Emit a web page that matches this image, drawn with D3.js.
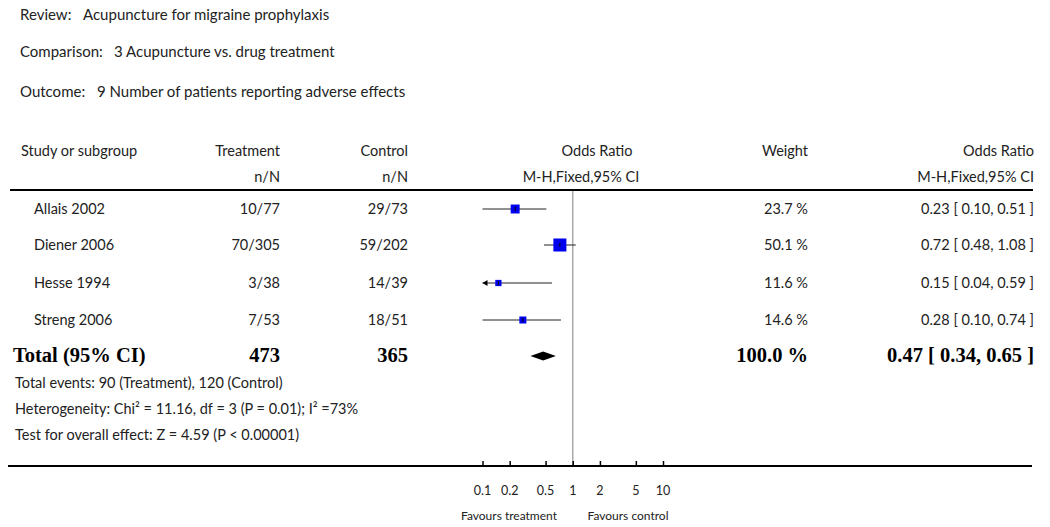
<!DOCTYPE html>
<html><head><meta charset="utf-8">
<script src="https://cdn.jsdelivr.net/npm/d3@7"></script>
<style>
body{margin:0;background:#fff;}
svg text{font-family:Lato,"Open Sans",sans-serif;font-size:14.5px;fill:#222;}
.bold{font-family:"Liberation Serif","DejaVu Serif",serif !important;font-weight:bold;font-size:20.5px !important;fill:#000 !important;}
</style></head>
<body>
<svg id="c" width="1050" height="527"></svg>
<script>
const studies = ["Allais 2002","Diener 2006","Hesse 1994","Streng 2006"];
const treatment = ["10/77","70/305","3/38","7/53"];
const control = ["29/73","59/202","14/39","18/51"];
const oddsRatio = [0.23,0.72,0.15,0.28];
const ciLow = [0.10,0.48,0.04,0.10];
const ciHigh = [0.51,1.08,0.59,0.74];
const weights = [23.7,50.1,11.6,14.6];
const total = {treatment:"473", control:"365", or:0.47, lo:0.34, hi:0.65, weight:"100.0 %"};
const axisTicks = [0.1,0.2,0.5,1,2,5,10];
const tickLabels = ["0.1","0.2","0.5","1","2","5","10"];
const headerLines = [["Review:","Acupuncture for migraine prophylaxis"],["Comparison:","3 Acupuncture vs. drug treatment"],["Outcome:","9 Number of patients reporting adverse effects"]];
const footerLines = ["Total events: 90 (Treatment), 120 (Control)","Heterogeneity: Chi² = 11.16, df = 3 (P = 0.01); I² =73%","Test for overall effect: Z = 4.59 (P < 0.00001)"];

const svg = d3.select("#c");
const x = d3.scaleLog().domain([0.1,10]).range([482.5,663]);
const fmt = d3.format(".2f");

// header
const hx = [[20,83],[20,114],[20,97]], hy = [20,57,97];
headerLines.forEach((h,i)=>{
  svg.append("text").attr("x",hx[i][0]).attr("y",hy[i]).style("font-size","15px").text(h[0]);
  svg.append("text").attr("x",hx[i][1]).attr("y",hy[i]).style("font-size","15px").text(h[1]);
});

// column headers
const colY1 = 156, colY2 = 182;
svg.append("text").attr("x",21).attr("y",colY1).text("Study or subgroup");
svg.append("text").attr("x",280).attr("y",colY1).attr("text-anchor","end").text("Treatment");
svg.append("text").attr("x",280).attr("y",colY2).attr("text-anchor","end").text("n/N");
svg.append("text").attr("x",408).attr("y",colY1).attr("text-anchor","end").text("Control");
svg.append("text").attr("x",408).attr("y",colY2).attr("text-anchor","end").text("n/N");
svg.append("text").attr("x",597).attr("y",colY1).attr("text-anchor","middle").text("Odds Ratio");
svg.append("text").attr("x",581).attr("y",colY2).attr("text-anchor","middle").text("M-H,Fixed,95% CI");
svg.append("text").attr("x",808).attr("y",colY1).attr("text-anchor","end").text("Weight");
svg.append("text").attr("x",1034).attr("y",colY1).attr("text-anchor","end").text("Odds Ratio");
svg.append("text").attr("x",1034).attr("y",colY2).attr("text-anchor","end").text("M-H,Fixed,95% CI");

// top rule
svg.append("line").attr("x1",10).attr("x2",1033).attr("y1",190).attr("y2",190).attr("stroke","#000").attr("stroke-width",2);

// vertical line at 1
svg.append("line").attr("x1",x(1)).attr("x2",x(1)).attr("y1",191).attr("y2",466).attr("stroke","#aaa").attr("stroke-width",1.5);

const rowY = [209,245,283,320];
const sizeScale = d3.scaleSqrt().domain([0,50.1]).range([0,13]);
studies.forEach((s,i)=>{
  const y = rowY[i];
  svg.append("text").attr("x",34).attr("y",y+5).text(s);
  svg.append("text").attr("x",280).attr("y",y+5).attr("text-anchor","end").text(treatment[i]);
  svg.append("text").attr("x",408).attr("y",y+5).attr("text-anchor","end").text(control[i]);
  svg.append("text").attr("x",808).attr("y",y+5).attr("text-anchor","end").text(weights[i].toFixed(1)+" %");
  svg.append("text").attr("x",1034).attr("y",y+5).attr("text-anchor","end").text(`${fmt(oddsRatio[i])} [ ${fmt(ciLow[i])}, ${fmt(ciHigh[i])} ]`);
  const lo = Math.max(ciLow[i],0.1), hi = Math.min(ciHigh[i],10);
  svg.append("line").attr("x1",x(lo)).attr("x2",x(hi)).attr("y1",y).attr("y2",y).attr("stroke","#222").attr("stroke-width",1);
  if (ciLow[i] < 0.1) {
    svg.append("path").attr("d",`M${x(0.1)},${y} l5,-3 l0,6 z`).attr("fill","#000");
  }
  const sz = Math.max(5, sizeScale(weights[i]));
  svg.append("rect").attr("x",x(oddsRatio[i])-sz/2).attr("y",y-sz/2).attr("width",sz).attr("height",sz).attr("fill","#0000ee");
  svg.append("line").attr("x1",x(oddsRatio[i])).attr("x2",x(oddsRatio[i])).attr("y1",y-2).attr("y2",y+2).attr("stroke","#000").attr("stroke-width",1);
});

// total row
const ty = 356;
svg.append("text").attr("class","bold").attr("x",13).attr("y",ty+6).text("Total (95% CI)");
svg.append("text").attr("class","bold").attr("x",280).attr("y",ty+6).attr("text-anchor","end").text(total.treatment);
svg.append("text").attr("class","bold").attr("x",408).attr("y",ty+6).attr("text-anchor","end").text(total.control);
svg.append("text").attr("class","bold").attr("x",808).attr("y",ty+6).attr("text-anchor","end").text(total.weight);
svg.append("text").attr("class","bold").attr("x",1034).attr("y",ty+6).attr("text-anchor","end").text(`${fmt(total.or)} [ ${fmt(total.lo)}, ${fmt(total.hi)} ]`);
svg.append("path").attr("d",`M${x(total.lo)},${ty} L${x(total.or)},${ty-4.5} L${x(total.hi)},${ty} L${x(total.or)},${ty+4.5} Z`).attr("fill","#000");

// footer
const fy = [388,414,440];
footerLines.forEach((t,i)=>{
  svg.append("text").attr("x",15).attr("y",fy[i]).text(t);
});

// axis
svg.append("line").attr("x1",8).attr("x2",1032).attr("y1",466).attr("y2",466).attr("stroke","#000").attr("stroke-width",2);
const axis = d3.axisTop(x).tickValues(axisTicks).tickSize(5).tickFormat("");
const ag = svg.append("g").attr("transform","translate(0,466)").call(axis);
ag.select(".domain").remove();
ag.selectAll(".tick line").attr("stroke","#000").attr("stroke-width",1.5);
axisTicks.forEach((t,i)=>{
  svg.append("text").attr("x",x(t)).attr("y",495).attr("text-anchor","middle").style("font-size","12.5px").text(tickLabels[i]);
});
svg.append("text").attr("x",509).attr("y",520).attr("text-anchor","middle").style("font-size","12px").text("Favours treatment");
svg.append("text").attr("x",628).attr("y",520).attr("text-anchor","middle").style("font-size","12px").text("Favours control");
</script>
</body></html>
